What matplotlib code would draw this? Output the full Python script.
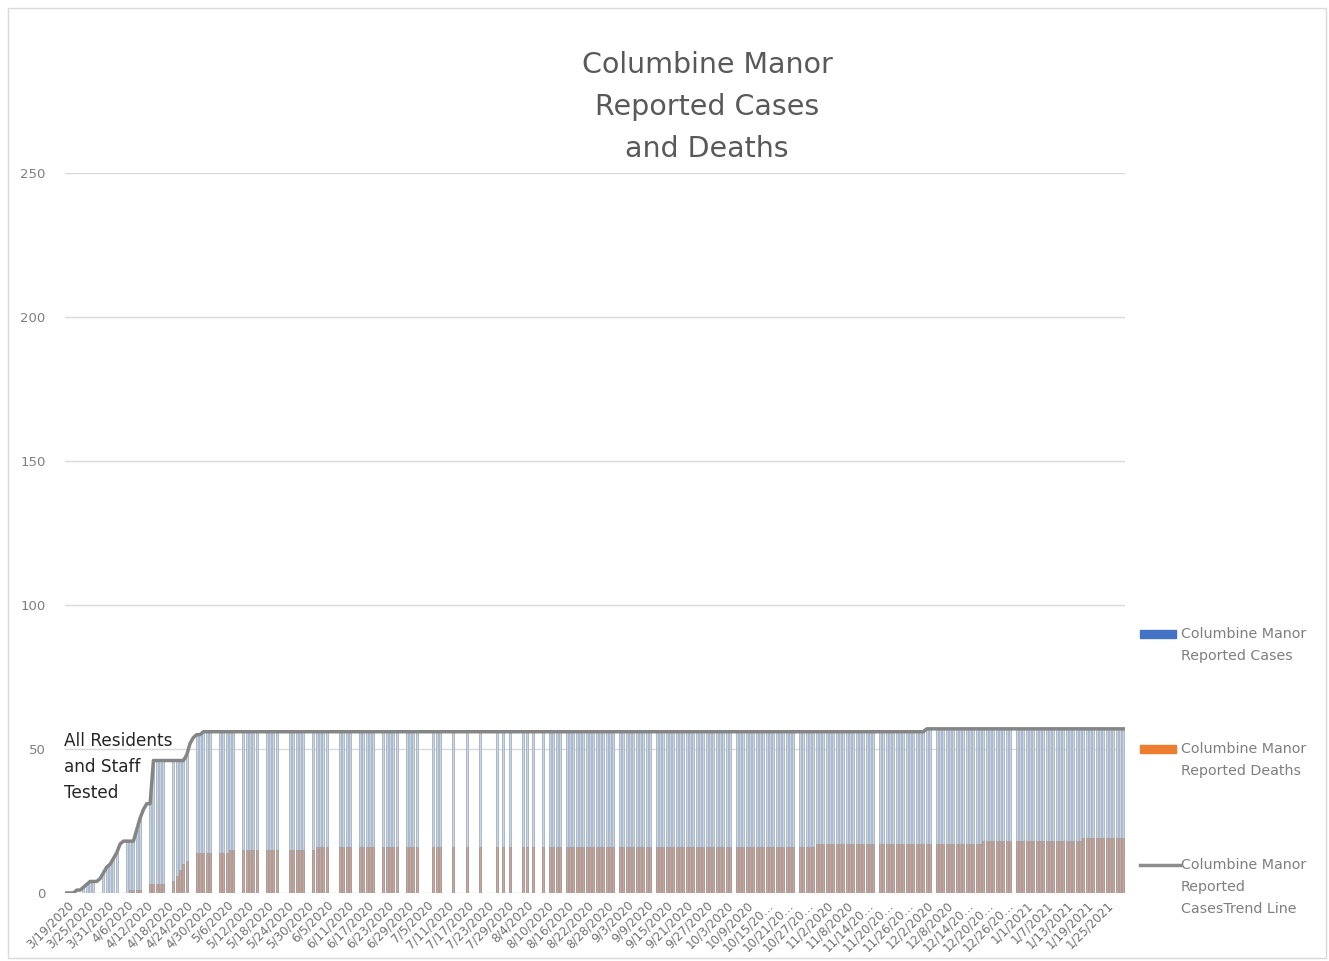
import matplotlib
matplotlib.use("Agg")
from matplotlib import pyplot as plt
from matplotlib.patches import Rectangle
from matplotlib.lines import Line2D
import numpy as np
import pandas as pd

start_date = "2020-03-19"
n_days = 318

# cumulative reported cases: first six weeks day by day, then (value, days) runs
cases_early = [0, 0, 0, 1, 1, 2, 3, 4, 4, 4, 5, 7, 9, 10, 12, 14, 17, 18, 18, 18, 18,
               22, 26, 29, 31, 31, 46, 46, 46, 46, 46, 46, 46, 46, 46, 46,
               48, 52, 54, 55, 55, 56, 56]
cases_vals = [56, 57]
cases_days = [215, 60]

# cumulative reported deaths as (value, days) runs
deaths_vals = [0, 1, 3, 4, 6, 8, 10, 11, 12, 13, 14, 15, 16, 17, 18, 19]
deaths_days = [19, 6, 5, 3, 1, 1, 1, 1, 1, 1, 10, 26, 150, 50, 30, 13]

# days with a report (1) or not (0), week by week from Thu 3/19/2020
report_weeks = [
    "0000011", "1100111", "1100111", "1100111", "1100111", "1100111",
    "1100111", "1100111", "1100111", "1000111", "1100111", "1100011",
    "1100111", "1100111", "1100111", "1000011", "1000100", "0100010",
    "0001010", "1000110", "1001011", "1101111", "1111111", "1111011",
    "1111111", "1011111", "1111111", "1111111", "1111011", "1111111",
    "1111111", "1101111", "1111111", "1111111", "1111101", "1111111",
    "1111111", "1011111", "1111111", "1111111", "1111011", "1111111",
    "1111111", "1111111", "1111111", "111",
]

cases = np.concatenate([cases_early, np.repeat(cases_vals, cases_days)])
deaths = np.repeat(deaths_vals, deaths_days)
reported = np.array([c == "1" for c in "".join(report_weeks)])

dates = pd.date_range(start_date, periods=n_days, freq="D")
labels = [f"{d.month}/{d.day}/{d.year}" for d in dates]
labels = [l if len(l) < 10 else l[:8] + "\u2026" for l in labels]

fig = plt.figure(figsize=(13.29, 9.61), dpi=100)
fig.patches.append(Rectangle((0.006, 0.003), 0.992, 0.989, transform=fig.transFigure,
                             fill=False, edgecolor="#d9d9d9", linewidth=1))
ax = fig.add_axes([0.049, 0.0708, 0.7975, 0.749])

x = np.arange(n_days)
ax.bar(x[reported], cases[reported], width=0.6, color="#c6d6e8",
       edgecolor="#9aa6b8", linewidth=0.5, zorder=2)
ax.bar(x[reported], deaths[reported], width=0.6, color="#caa598",
       edgecolor="#a5958f", linewidth=0.5, zorder=3)
ax.plot(x, cases, color="#858585", linewidth=2.5, zorder=4)

ax.set_xlim(-0.5, n_days - 0.5)
ax.set_ylim(0, 250)
ax.set_yticks([0, 50, 100, 150, 200, 250])
ax.yaxis.grid(True, color="#d9d9d9", linewidth=1, zorder=0)
ax.set_axisbelow(True)
for s in ax.spines.values():
    s.set_visible(False)
ax.tick_params(axis="y", length=0, pad=14, labelsize=9.5, labelcolor="#7f7f7f")
ax.set_xticks(x[::6])
ax.set_xticklabels(labels[::6], rotation=45, ha="right", rotation_mode="anchor",
                   fontsize=8.6, color="#6f6f6f")
ax.tick_params(axis="x", length=0, pad=4)

for i, line in enumerate(["Columbine Manor", "Reported Cases", "and Deaths"]):
    fig.text(0.532, 1 - (65 + 42 * i) / 961, line, ha="center", va="center",
             fontsize=20.5, color="#595959")

for i, line in enumerate(["All Residents", "and Staff", "Tested"]):
    fig.text(64 / 1329, 1 - (741 + 26 * i) / 961, line, ha="left", va="center",
             fontsize=12.2, color="#262626")

# legend drawn by hand to keep Excel's wide spacing
legend = [("patch", "#4472c4", ["Columbine Manor", "Reported Cases"], 634),
          ("patch", "#ed7d31", ["Columbine Manor", "Reported Deaths"], 749),
          ("line", "#8c8c8c", ["Columbine Manor", "Reported", "CasesTrend Line"], 865)]
for kind, col, lines, ypx in legend:
    yf = 1 - ypx / 961
    if kind == "patch":
        fig.patches.append(Rectangle((1140 / 1329, yf - 4 / 961), 36 / 1329, 8 / 961,
                                     transform=fig.transFigure, color=col))
    else:
        fig.add_artist(Line2D([1140 / 1329, 1180 / 1329], [yf, yf], color=col,
                              linewidth=2.5, transform=fig.transFigure))
    for j, t in enumerate(lines):
        fig.text(1181 / 1329, 1 - (ypx + 22 * j) / 961, t, ha="left", va="center",
                 fontsize=10.3, color="#7f7f7f")

fig.savefig("out.png", dpi=100)
